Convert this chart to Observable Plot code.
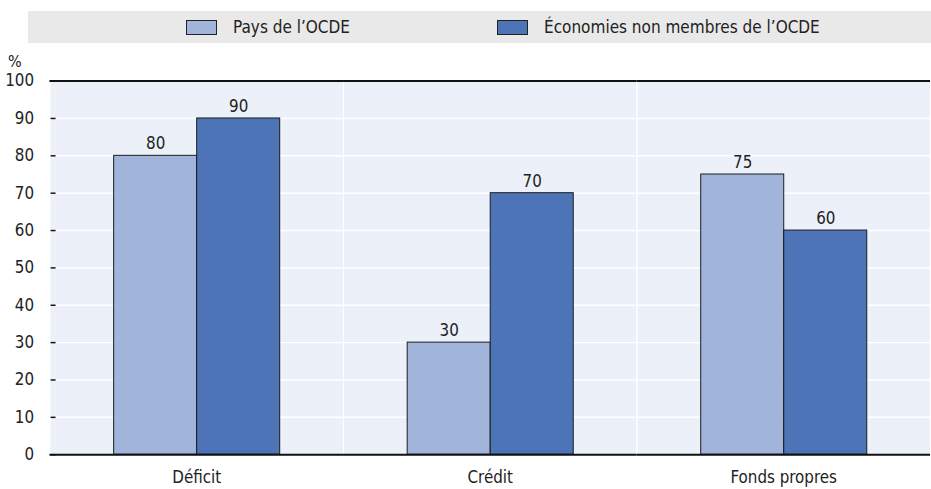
<!DOCTYPE html>
<html>
<head>
<meta charset="utf-8">
<script src="https://cdn.jsdelivr.net/npm/d3@7"></script>
<script src="https://cdn.jsdelivr.net/npm/@observablehq/plot@0.6"></script>
<style>
  html, body { margin: 0; padding: 0; background: #fff; overflow: hidden; width: 931px; height: 489px; }
  body { position: relative; font-family: "DejaVu Sans Condensed", "Liberation Sans Narrow", sans-serif; color: #222; }
  #legend { position: absolute; left: 28px; top: 11px; width: 903px; height: 32px; background: #e9e9e9; font-size: 17px; }
  .item { position: absolute; top: 0; height: 32px; display: flex; align-items: center; }
  .sw { width: 29px; height: 13px; border: 1px solid #222; margin-right: 16px; }
  #pct { position: absolute; left: 8px; top: 52px; font-size: 16px; }
  #chart { position: absolute; left: 0; top: 48px; }
</style>
</head>
<body>
<div id="legend"></div>
<div id="pct">%</div>
<div id="chart"></div>
<script>
const categories = ["Déficit", "Crédit", "Fonds propres"];
const series = ["Pays de l’OCDE", "Économies non membres de l’OCDE"];
const oecd = [80, 30, 75];
const nonOecd = [90, 70, 60];
const yTicks = [0, 10, 20, 30, 40, 50, 60, 70, 80, 90, 100];
const colors = ["#a1b4da", "#4e74b8"];

const data = [];
categories.forEach((c, i) => {
  data.push({category: c, series: series[0], value: oecd[i]});
  data.push({category: c, series: series[1], value: nonOecd[i]});
});

// legend
const legend = document.getElementById("legend");
const lefts = [158, 469];
series.forEach((s, i) => {
  const it = document.createElement("div");
  it.className = "item";
  it.style.left = lefts[i] + "px";
  const sw = document.createElement("div");
  sw.className = "sw";
  sw.style.background = colors[i];
  const t = document.createElement("span");
  t.textContent = s;
  it.appendChild(sw); it.appendChild(t);
  legend.appendChild(it);
});

const font = "\"DejaVu Sans Condensed\", \"Liberation Sans Narrow\", sans-serif";

const chart = Plot.plot({
  width: 942,
  height: 460,
  marginLeft: 49,
  marginRight: 0,
  marginTop: 33,
  marginBottom: 49,
  style: {fontFamily: font, fontSize: "17px", color: "#222", background: "transparent"},
  fx: {domain: categories, padding: 0, label: null},
  x: {domain: series, paddingInner: 0, paddingOuter: 0.75, axis: null},
  y: {domain: [0, 100], label: null},
  color: {domain: series, range: colors},
  marks: [
    Plot.frame({fill: "#ecf0f8", stroke: null}),
    Plot.gridY(yTicks, {stroke: "#fff", strokeOpacity: 1, strokeWidth: 1.5}),
    Plot.frame({stroke: "#fff", strokeWidth: 1}),
    Plot.barY(data, {fx: "category", x: "series", y: "value", fill: "series", stroke: "#1a1a1a", strokeWidth: 1}),
    Plot.ruleY([0, 100], {stroke: "#111", strokeWidth: 2}),
    Plot.axisY(yTicks, {tickSize: 0, tickPadding: 16, fontSize: 17, line: true, stroke: "#111"}),
    Plot.tickY(yTicks, {y: d => d, fx: () => categories[0], x: () => series[0], stroke: "#111", strokeWidth: 1.5, insetLeft: -63.8, insetRight: 142.8}),
    Plot.text(data, {fx: "category", x: "series", y: "value", text: d => String(d.value), dy: -12, fontSize: 17, fill: "#222"}),
    Plot.axisFx({anchor: "bottom", tickSize: 0, tickPadding: 17, fontSize: 17, label: null})
  ]
});
document.getElementById("chart").appendChild(chart);
</script>
</body>
</html>
